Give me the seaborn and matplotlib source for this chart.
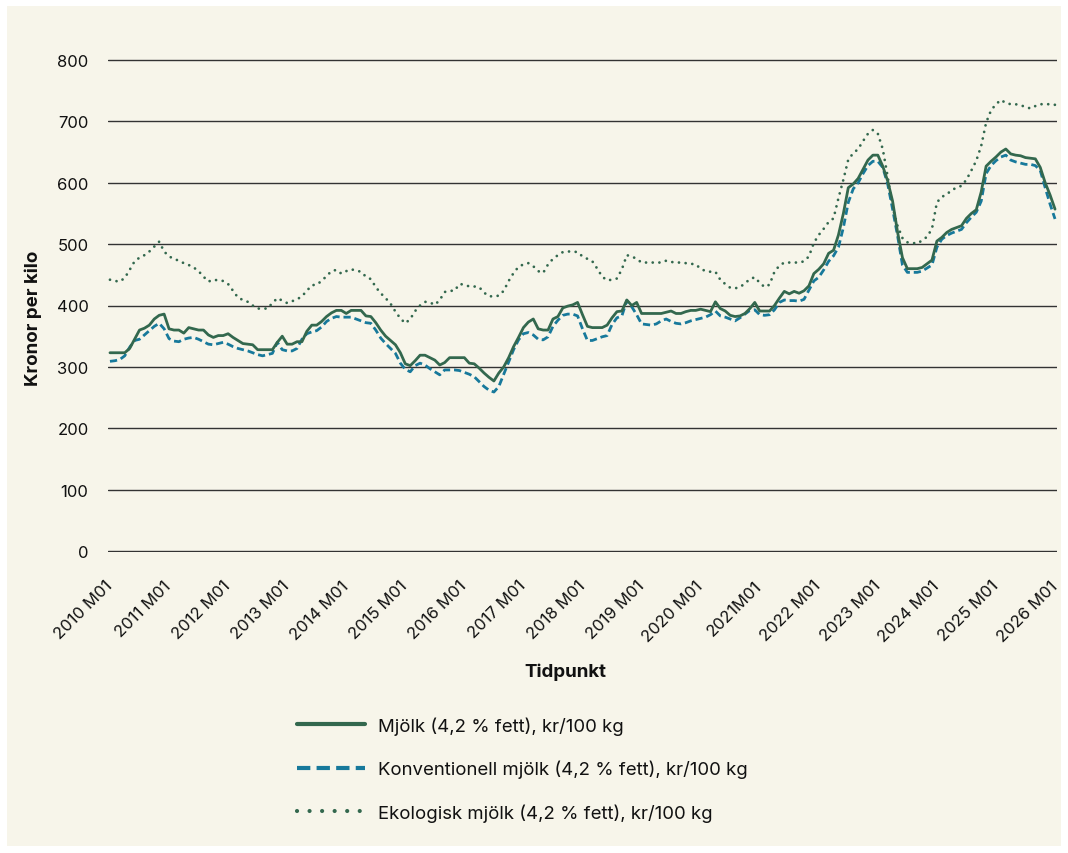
import matplotlib
matplotlib.use("Agg")
import matplotlib.pyplot as plt
import pandas as pd
import seaborn as sns
from matplotlib.lines import Line2D
from matplotlib.patches import Rectangle

# ---------------- data ----------------
months = [f"{y} M{m:02d}" for y in range(2010, 2027) for m in range(1, 13)][:193]

tick_labels = ["2010 M01", "2011 M01", "2012 M01", "2013 M01", "2014 M01", "2015 M01",
               "2016 M01", "2017 M01", "2018 M01", "2019 M01", "2020 M01", "2021M01",
               "2022 M01", "2023 M01", "2024 M01", "2025 M01", "2026 M01"]

series_names = ["Mjölk (4,2 % fett), kr/100 kg",
                "Konventionell mjölk (4,2 % fett), kr/100 kg",
                "Ekologisk mjölk (4,2 % fett), kr/100 kg"]

mjolk = [323, 323, 323, 323, 330, 345, 360, 363, 368, 378, 384, 386,
         362, 360, 360, 355, 364, 362, 360, 360, 352, 348, 351, 351,
         354, 348, 343, 338, 337, 336, 328, 328, 328, 328, 340, 350,
         337, 337, 341, 341, 358, 368, 368, 374, 382, 388, 392, 392,
         387, 392, 392, 392, 383, 382, 372, 360, 350, 343, 336, 323,
         305, 302, 310, 319, 319, 315, 311, 303, 307, 315, 315, 315,
         315, 306, 305, 298, 290, 283, 277, 290, 300, 315, 333, 348,
         364, 373, 378, 362, 360, 360, 378, 382, 396, 399, 401, 405,
         385, 366, 364, 364, 364, 368, 380, 390, 391, 409, 400, 405,
         387, 387, 387, 387, 387, 389, 391, 387, 387, 390, 392, 392,
         394, 392, 390, 406, 395, 391, 384, 382, 383, 387, 395, 405,
         391, 391, 391, 400, 412, 423, 419, 423, 420, 424, 432, 452,
         459, 468, 485, 490, 515, 550, 592, 598, 607, 622, 637, 645,
         645, 627, 603, 570, 520, 478, 460, 460, 460, 462, 468, 474,
         505, 511, 519, 524, 527, 530, 542, 550, 556, 585, 627, 635,
         642, 650, 655, 647, 645, 644, 641, 640, 639, 625, 600, 580,
         557]

konventionell = [309, 310, 312, 318, 332, 343, 345, 352, 359, 366, 371, 362,
                 346, 342, 341, 345, 347, 348, 345, 341, 337, 336, 338, 340,
                 337, 333, 330, 328, 326, 323, 320, 318, 320, 322, 340, 328,
                 326, 326, 330, 345, 354, 357, 359, 365, 374, 379, 382, 381,
                 381, 381, 378, 375, 372, 371, 360, 347, 338, 330, 322, 306,
                 296, 292, 302, 306, 303, 297, 292, 287, 295, 295, 295, 294,
                 291, 288, 284, 276, 268, 262, 259, 268, 288, 308, 328, 344,
                 354, 356, 352, 345, 344, 349, 366, 376, 384, 386, 386, 383,
                 362, 343, 343, 346, 349, 351, 369, 380, 383, 408, 398, 385,
                 370, 369, 368, 370, 375, 378, 374, 371, 370, 372, 375, 377,
                 379, 381, 385, 391, 383, 381, 378, 375, 380, 386, 392, 393,
                 385, 384, 385, 393, 405, 409, 408, 408, 407, 410, 425, 440,
                 446, 458, 472, 481, 495, 527, 568, 590, 600, 615, 628, 635,
                 635, 625, 598, 557, 514, 466, 454, 454, 454, 456, 461, 466,
                 495, 508, 514, 518, 521, 524, 535, 544, 552, 570, 615, 628,
                 636, 642, 645, 637, 634, 632, 630, 630, 628, 620, 592, 565,
                 541]

ekologisk = [442, 440, 439, 445, 458, 472, 478, 482, 488, 496, 504, 488,
             480, 476, 473, 469, 466, 462, 456, 447, 439, 442, 441, 440,
             435, 424, 413, 409, 406, 400, 395, 395, 395, 404, 412, 408,
             404, 407, 410, 415, 424, 433, 434, 440, 448, 456, 458, 452,
             456, 459, 457, 455, 447, 443, 430, 420, 412, 403, 390, 379,
             371, 378, 391, 400, 406, 405, 401, 409, 422, 424, 424, 435,
             434, 431, 431, 430, 421, 415, 415, 416, 424, 440, 453, 463,
             467, 469, 464, 456, 453, 467, 476, 482, 487, 488, 488, 487,
             480, 476, 472, 460, 447, 441, 442, 444, 459, 482, 480, 476,
             470, 470, 470, 470, 470, 473, 471, 470, 470, 469, 468, 467,
             460, 456, 455, 455, 442, 435, 429, 428, 430, 436, 443, 446,
             437, 430, 434, 455, 465, 470, 470, 470, 470, 472, 480, 502,
             515, 525, 536, 542, 575, 605, 638, 648, 655, 668, 680, 686,
             680, 655, 610, 560, 530, 510, 503, 502, 501, 506, 512, 525,
             568, 577, 581, 588, 592, 595, 605, 620, 636, 660, 698, 718,
             728, 735, 730, 728, 728, 726, 724, 721, 725, 728, 728, 728,
             727]

y_ticks = [0, 100, 200, 300, 400, 500, 600, 700, 800]

# ---------------- style ----------------
sns.set_theme(style="white")
plt.rcParams["font.family"] = ["Inter", "DejaVu Sans"]

BG = "#F7F5EA"
GREEN = "#33684E"
BLUE = "#17799B"
W, H = 1068, 854

fig = plt.figure(figsize=(W / 100, H / 100), dpi=100, facecolor="white")
fig.patches.append(Rectangle((7 / W, 7 / H), 1 - 14 / W, 1 - 14 / H,
                             transform=fig.transFigure, facecolor=BG,
                             edgecolor="none", zorder=-10))

left, right = 108 / W, 1057 / W
bottom, top = (H - 553.2) / H, (H - 59.8) / H
ax = fig.add_axes([left, bottom, right - left, top - bottom])
ax.set_facecolor("none")

df = pd.DataFrame({"idx": range(len(months)), "month": months,
                   "m": mjolk, "k": konventionell, "e": ekologisk})

sns.lineplot(data=df, x="idx", y="e", ax=ax, color=GREEN, lw=2.0, zorder=3)
l_e = ax.lines[-1]
l_e.set_dashes((0.01, 2.4))
l_e.set_dash_capstyle("round")

sns.lineplot(data=df, x="idx", y="k", ax=ax, color=BLUE, lw=2.0, zorder=4)
l_k = ax.lines[-1]
l_k.set_dashes((2.6, 1.4))

sns.lineplot(data=df, x="idx", y="m", ax=ax, color=GREEN, lw=2.0, zorder=5)

ax.set_xlim(-0.4, 192.4)
ax.set_ylim(-2, 802)
ax.set_yticks(y_ticks)
ax.set_yticklabels([str(v) for v in y_ticks])
ax.set_xticks(list(range(0, 193, 12)))
ax.set_xticklabels(tick_labels, rotation=45, ha="right", va="center",
                   rotation_mode="anchor")
ax.tick_params(axis="x", length=0, pad=22, labelsize=12, colors="#111111")
ax.tick_params(axis="y", length=0, pad=14, labelsize=12, colors="#111111")
ax.yaxis.grid(True, color="#333333", lw=1.0, zorder=1)
ax.xaxis.grid(False)
for s in ax.spines.values():
    s.set_visible(False)
ax.set_xlabel("")
ax.set_ylabel("")

fig.text(565 / W, (H - 672) / H, "Tidpunkt", ha="center", va="center",
         fontsize=13.5, fontweight="bold", color="#111111")
fig.text(33 / W, (H - 318) / H, "Kronor per kilo", ha="center", va="center",
         rotation=90, fontsize=13.5, fontweight="bold", color="#111111")

handles = [
    Line2D([0], [0], color=GREEN, lw=3.0),
    Line2D([0], [0], color=BLUE, lw=3.0, dashes=(3.2, 1.5)),
    Line2D([0], [0], color=GREEN, lw=3.0, dashes=(0.01, 3.0),
           dash_capstyle="round"),
]
leg = fig.legend(handles, series_names, loc="center left",
                 bbox_to_anchor=(297 / W, (H - 770) / H), frameon=False,
                 fontsize=13.4, handlelength=3.66, handletextpad=0.7,
                 labelspacing=1.33, borderpad=0, borderaxespad=0)
for t in leg.get_texts():
    t.set_color("#111111")

fig.savefig("out.png", dpi=100, facecolor="white")
